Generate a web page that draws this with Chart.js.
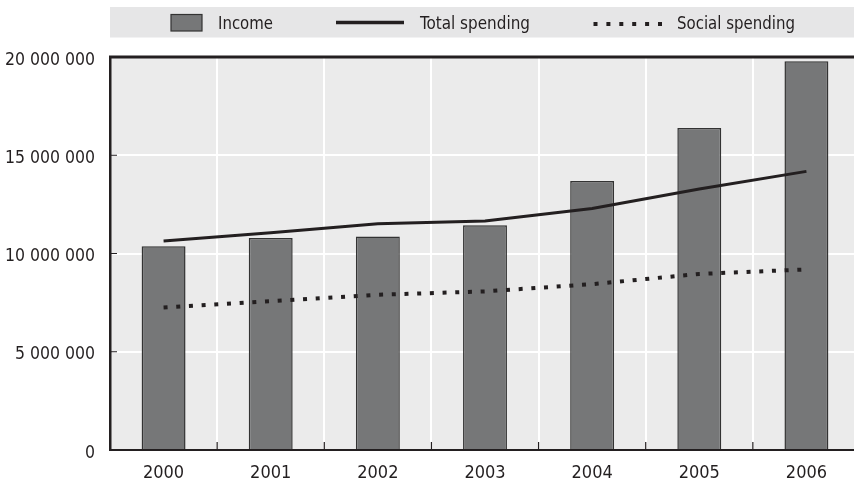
<!DOCTYPE html>
<html>
<head>
<meta charset="utf-8">
<script src="https://cdn.jsdelivr.net/npm/chart.js@4"></script>
<style>
  html, body { margin: 0; padding: 0; background: #fff; overflow: hidden; }
  #wrap { width: 860px; height: 483px; position: relative; }
</style>
</head>
<body>
<div id="wrap"><canvas id="myChart"></canvas></div>
<script>
// chart values
var years = ['2000', '2001', '2002', '2003', '2004', '2005', '2006'];
var income = [10370000, 10790000, 10860000, 11440000, 13690000, 16390000, 19780000];
var totalSpending = [10640000, 11050000, 11520000, 11660000, 12290000, 13280000, 14180000];
var socialSpending = [7250000, 7570000, 7900000, 8070000, 8440000, 8960000, 9190000];
var yTicks = [0, 5000000, 10000000, 15000000, 20000000];

var seriesNames = ['Income', 'Total spending', 'Social spending'];

var fontFam = "'DejaVu Sans Condensed', 'Liberation Sans Narrow', sans-serif";
var ink = '#231f20';
var barGrey = '#767778';

function spaced(v){
  return String(v).replace(/\B(?=(\d{3})+(?!\d))/g, ' ');
}

// grey plot background, top border, inward ticks and the legend band
var decor = {
  id: 'decor',
  beforeDraw: function(chart){
    var c = chart.ctx, a = chart.chartArea;
    c.save();
    c.fillStyle = '#ebebeb';
    c.fillRect(a.left, a.top, a.right - a.left, a.bottom - a.top);
    c.restore();
  },
  afterDraw: function(chart){
    var c = chart.ctx, a = chart.chartArea;
    var y = chart.scales.y;
    c.save();
    // top frame line
    c.strokeStyle = ink;
    c.lineWidth = 3;
    c.beginPath();
    c.moveTo(a.left - 1, a.top);
    c.lineTo(a.right, a.top);
    c.stroke();
    // small inward ticks
    c.lineWidth = 1.2;
    c.beginPath();
    for (var i = 1; i < yTicks.length - 1; i++){
      var ty = y.getPixelForValue(yTicks[i]);
      c.moveTo(a.left, ty);
      c.lineTo(a.left + 7, ty);
    }
    var step = (a.right - a.left) / years.length;
    for (var k = 1; k < years.length; k++){
      var tx = a.left + step * k;
      c.moveTo(tx, a.bottom);
      c.lineTo(tx, a.bottom - 8);
    }
    c.stroke();

    // legend band
    c.fillStyle = '#e6e6e7';
    c.fillRect(110, 7, 760, 30.5);
    c.fillStyle = barGrey;
    c.fillRect(171, 14.5, 31, 16.5);
    c.strokeStyle = '#333';
    c.lineWidth = 1.2;
    c.strokeRect(171, 14.5, 31, 16.5);
    c.strokeStyle = ink;
    c.lineWidth = 3.5;
    c.beginPath();
    c.moveTo(336, 22.5);
    c.lineTo(404, 22.5);
    c.stroke();
    c.fillStyle = ink;
    for (var d = 0; d < 6; d++){
      c.fillRect(593.5 + d * 12.9, 22, 4, 4);
    }
    // the original face is a narrow one, so squeeze the text to its width
    c.font = '18px ' + fontFam;
    c.textBaseline = 'alphabetic';
    c.fillText(seriesNames[0], 218, 29.3, 55);
    c.fillText(seriesNames[1], 420, 29.3, 110);
    c.fillText(seriesNames[2], 677, 29.3, 118);
    c.restore();
  }
};

document.addEventListener('DOMContentLoaded', function(){
  var ctx = document.querySelector('#myChart').getContext('2d');
  var chart = new Chart(ctx, {
    type: 'bar',
    data: {
      labels: years,
      datasets: [{
        type: 'line',
        label: seriesNames[1],
        data: totalSpending,
        borderColor: ink,
        borderWidth: 3,
        pointRadius: 0,
        tension: 0,
        order: 1
      }, {
        type: 'line',
        label: seriesNames[2],
        data: socialSpending,
        borderColor: ink,
        borderWidth: 4,
        borderDash: [4, 8.7],
        pointRadius: 0,
        tension: 0,
        order: 2
      }, {
        type: 'bar',
        label: seriesNames[0],
        data: income,
        backgroundColor: barGrey,
        borderColor: '#333',
        borderWidth: 1.5,
        categoryPercentage: 1,
        barPercentage: 0.41,
        order: 3
      }]
    },
    options: {
      responsive: true,
      maintainAspectRatio: false,
      animation: false,
      layout: { padding: { top: 57, left: 0, right: 0, bottom: 0 } },
      plugins: {
        legend: { display: false },
        tooltip: { enabled: false }
      },
      scales: {
        x: {
          offset: true,
          grid: { color: '#fff', lineWidth: 2, drawTicks: false, offset: true },
          border: { color: ink, width: 2 },
          ticks: { color: ink, font: { family: fontFam, size: 18 }, padding: 13 },
          afterFit: function(s){ s.height = 33; }
        },
        y: {
          min: 0,
          max: 20000000,
          afterBuildTicks: function(s){
            s.ticks = yTicks.map(function(v){ return { value: v }; });
          },
          grid: { color: '#fff', lineWidth: 2, drawTicks: false },
          border: { color: ink, width: 2.5 },
          ticks: {
            color: ink,
            font: { family: fontFam, size: 17.5 },
            padding: 15,
            labelOffset: 3,
            callback: function(v){ return spaced(v); }
          },
          afterFit: function(s){ s.width = 110; }
        }
      }
    },
    plugins: [decor]
  });
});
</script>
</body>
</html>
